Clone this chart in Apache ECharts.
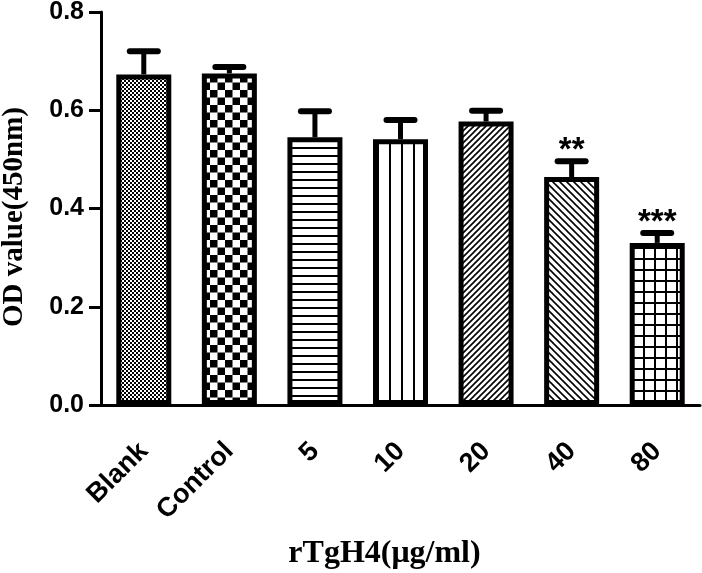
<!DOCTYPE html>
<html>
<head>
<meta charset="utf-8">
<script src="https://cdn.jsdelivr.net/npm/echarts@6/dist/echarts.min.js"></script>
<style>
html,body{margin:0;padding:0;background:#fff;}
#chart{width:702px;height:573px;}
</style>
</head>
<body>
<div id="chart"></div>
<script>
// ---- data ----
const categories = ['Blank', 'Control', '5', '10', '20', '40', '80'];
const means = [0.673, 0.675, 0.545, 0.541, 0.577, 0.464, 0.330];
const errors = [0.047, 0.013, 0.053, 0.039, 0.022, 0.032, 0.020];
const sigLabels = ['', '', '', '', '', '**', '***'];
const yMin = 0, yMax = 0.8, yStep = 0.2;
const xTitle = 'rTgH4(μg/ml)';
const yTitle = 'OD value(450nm)';

// ---- hatch patterns ----
function makeCanvas(w, h, draw) {
  const c = document.createElement('canvas');
  c.width = w; c.height = h;
  const ctx = c.getContext('2d');
  ctx.fillStyle = '#fff'; ctx.fillRect(0, 0, w, h);
  ctx.fillStyle = '#000'; ctx.strokeStyle = '#000';
  draw(ctx, w, h);
  return c;
}
const patterns = [
  makeCanvas(4, 4, (ctx) => { ctx.fillRect(0, 0, 2, 2); ctx.fillRect(2, 2, 2, 2); }),
  makeCanvas(15, 15, (ctx) => { ctx.fillRect(0, 0, 7.5, 7.5); ctx.fillRect(7.5, 7.5, 7.5, 7.5); }),
  makeCanvas(8, 8, (ctx) => { ctx.fillRect(0, 3, 8, 2); }),
  makeCanvas(12, 12, (ctx) => { ctx.fillRect(5, 0, 2, 12); }),
  makeCanvas(6, 6, (ctx) => {
    ctx.lineWidth = 1.6;
    ctx.beginPath(); ctx.moveTo(-1, 7); ctx.lineTo(7, -1); ctx.stroke();
    ctx.beginPath(); ctx.moveTo(-1, 1); ctx.lineTo(1, -1); ctx.stroke();
    ctx.beginPath(); ctx.moveTo(5, 7); ctx.lineTo(7, 5); ctx.stroke();
  }),
  makeCanvas(7, 7, (ctx) => {
    ctx.lineWidth = 1.6;
    ctx.beginPath(); ctx.moveTo(-1, -1); ctx.lineTo(8, 8); ctx.stroke();
    ctx.beginPath(); ctx.moveTo(-1, 6); ctx.lineTo(1, 8); ctx.stroke();
    ctx.beginPath(); ctx.moveTo(6, -1); ctx.lineTo(8, 1); ctx.stroke();
  }),
  makeCanvas(11, 11, (ctx) => { ctx.fillRect(5, 0, 2, 11); ctx.fillRect(0, 5, 11, 2); })
];

const chart = echarts.init(document.getElementById('chart'), null, {renderer: 'canvas'});

const barData = means.map((v, i) => ({
  value: v,
  itemStyle: {color: {image: patterns[i], repeat: 'repeat'}}
}));
const errData = means.map((v, i) => [i, v, errors[i]]);

const option = {
  animation: false,
  backgroundColor: '#fff',
  grid: {left: 101, right: 2, top: 12, bottom: 168, containLabel: false, outerBoundsMode: 'none'},
  xAxis: {
    type: 'category',
    data: categories,
    axisLine: {lineStyle: {color: '#000', width: 3}},
    axisTick: {alignWithLabel: true, length: 14, lineStyle: {color: '#000', width: 3}},
    axisLabel: {
      rotate: 45, margin: 42, color: '#000',
      fontFamily: 'Liberation Sans', fontWeight: 'bold', fontSize: 27
    },
    name: xTitle,
    nameLocation: 'middle',
    nameGap: 133,
    nameTextStyle: {
      fontFamily: 'Liberation Serif', fontWeight: 'bold', fontSize: 32, color: '#000',
      padding: [0, 32, 0, 0]
    }
  },
  yAxis: {
    type: 'value',
    min: yMin, max: yMax, interval: yStep,
    splitLine: {show: false},
    axisLine: {show: true, lineStyle: {color: '#000', width: 3}},
    axisTick: {show: true, length: 12, lineStyle: {color: '#000', width: 3}},
    axisLabel: {
      margin: 17, color: '#000',
      fontFamily: 'Liberation Sans', fontWeight: 'bold', fontSize: 25,
      formatter: (v) => v.toFixed(1)
    },
    name: yTitle,
    nameLocation: 'middle',
    nameGap: 72,
    nameTextStyle: {
      fontFamily: 'Liberation Serif', fontWeight: 'bold', fontSize: 29, color: '#000',
      padding: [0, 17, 0, 0]
    }
  },
  series: [
    {
      type: 'bar',
      data: barData,
      barWidth: 55,
      itemStyle: {borderColor: '#000', borderWidth: 5},
      z: 2
    },
    {
      type: 'custom',
      data: errData,
      z: 3,
      renderItem: (params, api) => {
        const i = api.value(0), m = api.value(1), e = api.value(2);
        const base = api.coord([i, m]);
        const top = api.coord([i, m + e]);
        const label = sigLabels[i];
        const children = [
          {type: 'line', shape: {x1: base[0], y1: base[1], x2: top[0], y2: top[1]},
           style: {stroke: '#000', lineWidth: 5}},
          {type: 'line', shape: {x1: top[0] - 14, y1: top[1], x2: top[0] + 14, y2: top[1]},
           style: {stroke: '#000', lineWidth: 6, lineCap: 'round'}}
        ];
        if (label) {
          children.push({type: 'text', x: top[0], y: top[1] - 10,
            style: {text: label, align: 'center', verticalAlign: 'middle',
              font: 'bold 33px "Liberation Sans"', fill: '#000'}});
        }
        return {type: 'group', children};
      }
    }
  ]
};
chart.setOption(option);
</script>
</body>
</html>
